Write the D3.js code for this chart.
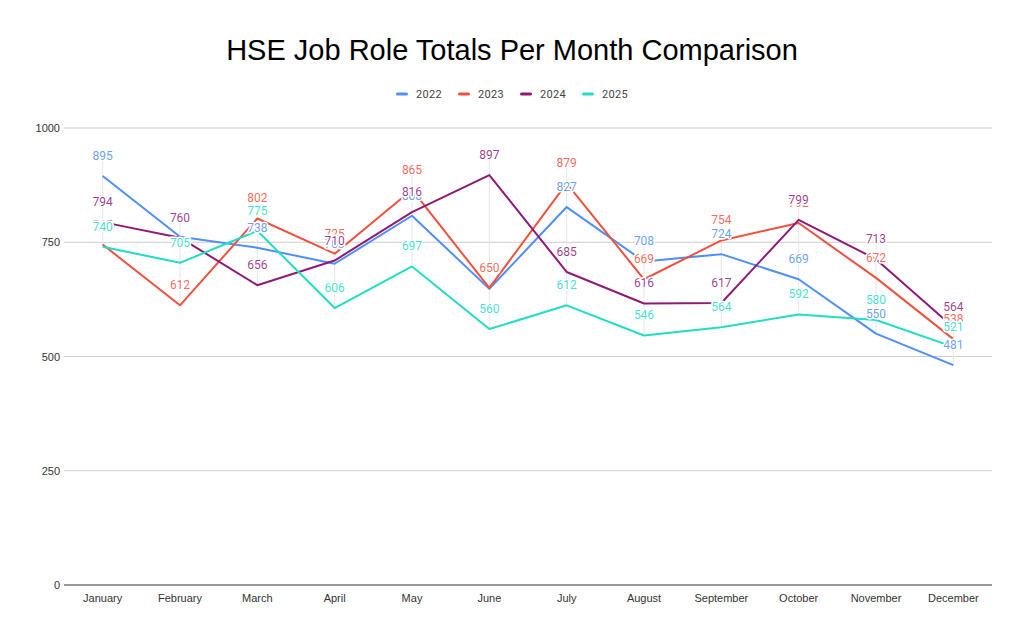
<!DOCTYPE html>
<html lang="en">
<head>
    <meta charset="UTF-8">
    <title>HSE Job Role Totals Per Month Comparison</title>
    <script src="https://d3js.org/d3.v7.min.js"></script>
    <style>
        body {
            margin: 0;
            background: #fff;
        }

        .axis-label {
            font-family: "Liberation Sans", Arial, sans-serif;
            font-size: 11px;
            fill: #333;
        }

        .data-label {
            font-family: Roboto, "Noto Sans", sans-serif;
            font-size: 12px;
            paint-order: stroke;
            stroke: #fff;
            stroke-width: 3px;
            stroke-linejoin: round;
        }
    </style>
</head>
<body>
    <div id="chart"></div>

    <script>
        // Values
        const months = ["January", "February", "March", "April", "May", "June",
            "July", "August", "September", "October", "November", "December"];
        const years = ["2022", "2023", "2024", "2025"];
        const totals2022 = [895, 762, 738, 703, 808, 648, 827, 708, 724, 669, 550, 481];
        const totals2023 = [745, 612, 802, 725, 865, 650, 879, 669, 754, 792, 672, 538];
        const totals2024 = [794, 760, 656, 710, 816, 897, 685, 616, 617, 799, 713, 564];
        const totals2025 = [740, 705, 775, 606, 697, 560, 612, 546, 564, 592, 580, 521];
        const yTicks = [0, 250, 500, 750, 1000];

        const seriesValues = [totals2022, totals2023, totals2024, totals2025];
        const colors = ["#4f8ff7", "#f0503e", "#8e1a78", "#22dcc6"];

        const width = 1024;
        const height = 637;
        const margin = { top: 128, right: 32, bottom: 52, left: 64 };

        const svg = d3.select("#chart").append("svg")
            .attr("width", width)
            .attr("height", height);

        // Title
        svg.append("text")
            .attr("x", width / 2)
            .attr("y", 60)
            .attr("text-anchor", "middle")
            .style("font-family", "'Liberation Sans', Arial, sans-serif")
            .style("font-size", "29px")
            .style("fill", "#000")
            .text("HSE Job Role Totals Per Month Comparison");

        // Legend
        const legend = svg.append("g").attr("transform", "translate(396, 94)");
        years.forEach((yr, i) => {
            const g = legend.append("g").attr("transform", `translate(${i * 62}, 0)`);
            g.append("rect")
                .attr("x", 0).attr("y", -1.5)
                .attr("width", 12).attr("height", 3)
                .attr("rx", 1.5)
                .attr("fill", colors[i]);
            g.append("text")
                .attr("x", 20).attr("y", 4)
                .style("font-family", "Roboto, sans-serif")
                .style("font-size", "11px")
                .style("fill", "#444")
                .style("letter-spacing", "0.3px")
                .text(yr);
        });

        const x = d3.scaleBand()
            .domain(months)
            .range([margin.left, width - margin.right]);

        const y = d3.scaleLinear()
            .domain([0, 1000])
            .range([height - margin.bottom, margin.top]);

        const cx = m => x(m) + x.bandwidth() / 2;

        // Horizontal gridlines
        svg.append("g")
            .selectAll("line")
            .data(yTicks.filter(t => t > 0))
            .join("line")
            .attr("x1", margin.left)
            .attr("x2", width - margin.right)
            .attr("y1", d => y(d))
            .attr("y2", d => y(d))
            .attr("stroke", "#cccccc")
            .attr("stroke-width", 1);

        // Y axis labels
        svg.append("g")
            .selectAll("text")
            .data(yTicks)
            .join("text")
            .attr("class", "axis-label")
            .attr("x", margin.left - 4)
            .attr("y", d => y(d) + 4)
            .attr("text-anchor", "end")
            .text(d => d);

        // Faint leader lines at each month, from highest label to lowest point
        svg.append("g")
            .selectAll("line")
            .data(months)
            .join("line")
            .attr("x1", d => cx(d))
            .attr("x2", d => cx(d))
            .attr("y1", (d, i) => y(d3.max(seriesValues, s => s[i])) - 22)
            .attr("y2", (d, i) => y(d3.min(seriesValues, s => s[i])))
            .attr("stroke", "#e6e6e6")
            .attr("stroke-width", 1);

        // Baseline
        svg.append("line")
            .attr("x1", margin.left)
            .attr("x2", width - margin.right)
            .attr("y1", y(0))
            .attr("y2", y(0))
            .attr("stroke", "#333")
            .attr("stroke-width", 1);

        // X axis labels
        svg.append("g")
            .selectAll("text")
            .data(months)
            .join("text")
            .attr("class", "axis-label")
            .attr("x", d => cx(d))
            .attr("y", y(0) + 17)
            .attr("text-anchor", "middle")
            .text(d => d);

        // Lines
        const line = d3.line()
            .x((d, i) => cx(months[i]))
            .y(d => y(d));

        svg.append("g")
            .selectAll("path")
            .data(seriesValues)
            .join("path")
            .attr("fill", "none")
            .attr("stroke", (d, i) => colors[i])
            .attr("stroke-width", 2)
            .attr("stroke-linejoin", "round")
            .attr("d", line);

        // Data labels (later series drawn on top)
        seriesValues.forEach((vals, si) => {
            svg.append("g")
                .selectAll("text")
                .data(vals)
                .join("text")
                .attr("class", "data-label")
                .attr("x", (d, i) => cx(months[i]))
                .attr("y", d => y(d) - 16)
                .attr("text-anchor", "middle")
                .style("fill", colors[si])
                .style("fill-opacity", 0.85)
                .text(d => d);
        });
    </script>
</body>
</html>
